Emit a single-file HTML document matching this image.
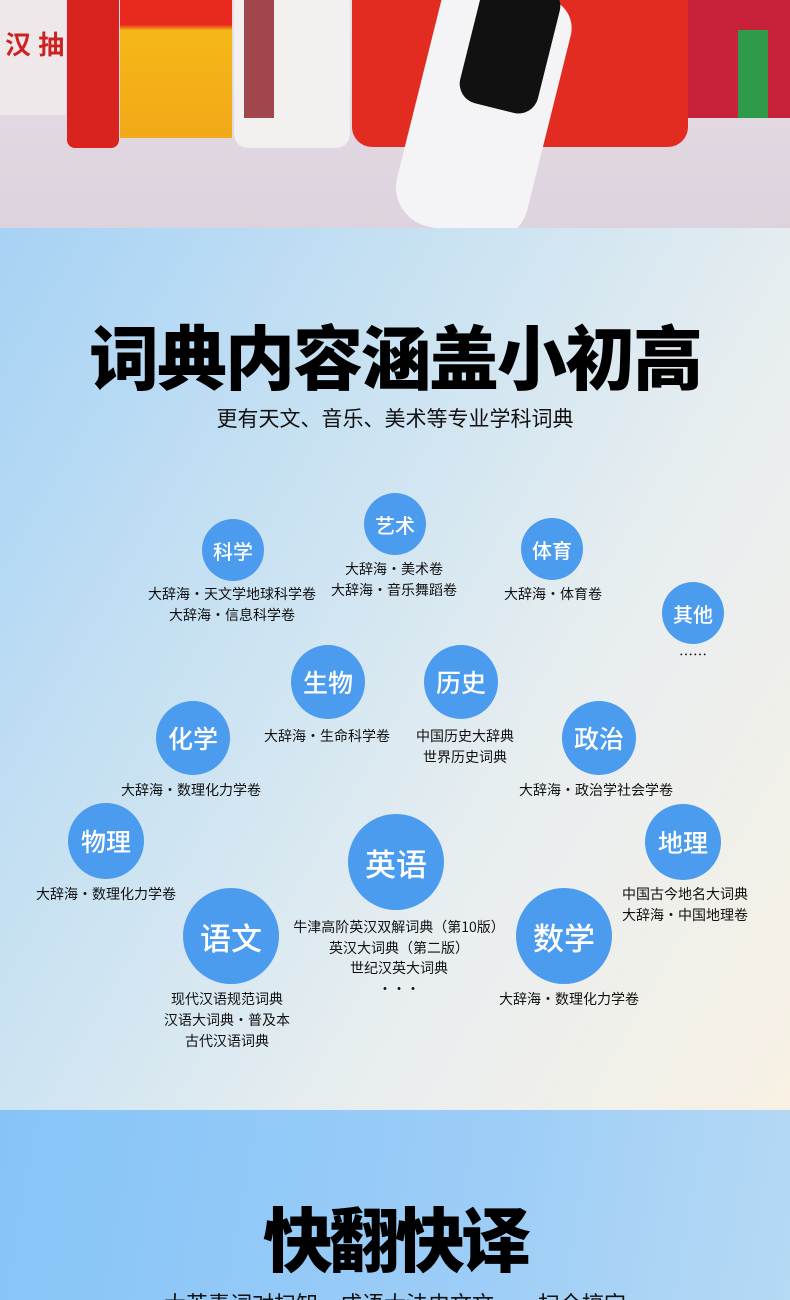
<!DOCTYPE html>
<html><head><meta charset="utf-8"><style>
*{margin:0;padding:0;box-sizing:border-box}
html,body{width:790px;height:1300px;overflow:hidden}
body{position:relative;font-family:"Liberation Sans","Noto Sans CJK SC",sans-serif;}
.top{position:absolute;left:0;top:0;width:790px;height:228px;background:linear-gradient(#e6dde6,#ddd3de);overflow:hidden}
.mid{position:absolute;left:0;top:228px;width:790px;height:882px;background:linear-gradient(120deg,#a6d2f5 0%,#c9e2f2 35%,#e8eef0 65%,#f8f1e4 100%)}
.bot{position:absolute;left:0;top:1110px;width:790px;height:190px;background:linear-gradient(100deg,#86c4f8,#9ccdf7 60%,#b6d9f4);overflow:hidden}
.c{position:absolute;border-radius:50%;background:#4b9bee;color:#fff;display:flex;align-items:center;justify-content:center;font-family:"Noto Sans CJK SC",sans-serif;font-weight:500}
.t{position:absolute;font-size:14px;line-height:21px;color:#111;text-align:center;white-space:nowrap;transform:translateX(-50%);font-family:"Noto Sans CJK SC",sans-serif}
.h{position:absolute;left:0;width:790px;text-align:center;font-family:"Noto Sans CJK SC",sans-serif;font-weight:900;color:#000}
</style></head><body>
<div class="top">
 <div style="position:absolute;left:0;top:0;width:66px;height:115px;background:#efe8ea"></div>
 <div style="position:absolute;left:5px;top:25px;width:60px;height:35px;color:#c22;font-size:26px;font-weight:bold">汉 抽</div>
 <div style="position:absolute;left:67px;top:0;width:52px;height:148px;background:#d9231f;border-radius:0 0 8px 8px"></div>
 <div style="position:absolute;left:120px;top:0;width:112px;height:138px;background:linear-gradient(#e82a1e 0,#e82a1e 18%,#f4b818 22%,#f2a818 100%)"></div>
 <div style="position:absolute;left:234px;top:0;width:116px;height:148px;background:#f3f1f0;border-radius:0 0 14px 14px"></div>
 <div style="position:absolute;left:244px;top:0;width:30px;height:118px;background:#8c1d22;opacity:.8"></div>
 <div style="position:absolute;left:352px;top:0;width:336px;height:147px;background:#e22c22;border-radius:0 0 20px 20px"></div>
 <div style="position:absolute;left:688px;top:0;width:102px;height:118px;background:#c8213a"></div>
 <div style="position:absolute;left:738px;top:30px;width:30px;height:88px;background:#2e9a4a"></div>
 <div style="position:absolute;left:446px;top:-10px;width:134px;height:250px;background:#f4f4f6;border-radius:30px 30px 40px 40px;transform:rotate(14deg);transform-origin:top center"></div>
 <div style="position:absolute;left:470px;top:-20px;width:80px;height:130px;background:#111;border-radius:20px;transform:rotate(14deg)"></div>
</div>
<div class="mid"></div>
<div class="bot">
 <div class="h" style="top:82px;font-size:70px;line-height:90px;letter-spacing:-4px">快翻快译</div>
 <div class="h" style="top:178px;font-size:22px;line-height:30px;font-weight:400;color:#111">大英素词对扫知，成语大法史文文，一扫全搞定</div>
</div>
<div class="h" style="top:310px;font-size:70px;line-height:90px;letter-spacing:-2px">词典内容涵盖小初高</div>
<div class="h" style="top:403px;font-size:21px;line-height:30px;font-weight:400;color:#111">更有天文、音乐、美术等专业学科词典</div>

<div class="c" style="left:202px;top:519px;width:62px;height:62px;font-size:20px">科学</div>
<div class="t" style="left:232px;top:584px">大辞海・天文学地球科学卷<br>大辞海・信息科学卷</div>
<div class="c" style="left:364px;top:493px;width:62px;height:62px;font-size:20px">艺术</div>
<div class="t" style="left:394px;top:559px">大辞海・美术卷<br>大辞海・音乐舞蹈卷</div>
<div class="c" style="left:521px;top:518px;width:62px;height:62px;font-size:20px">体育</div>
<div class="t" style="left:553px;top:584px">大辞海・体育卷</div>
<div class="c" style="left:662px;top:582px;width:62px;height:62px;font-size:20px">其他</div>
<div class="t" style="left:693px;top:645px">……</div>

<div class="c" style="left:291px;top:645px;width:74px;height:74px;font-size:25px">生物</div>
<div class="t" style="left:327px;top:726px">大辞海・生命科学卷</div>
<div class="c" style="left:424px;top:645px;width:74px;height:74px;font-size:25px">历史</div>
<div class="t" style="left:465px;top:726px">中国历史大辞典<br>世界历史词典</div>
<div class="c" style="left:156px;top:701px;width:74px;height:74px;font-size:25px">化学</div>
<div class="t" style="left:191px;top:780px">大辞海・数理化力学卷</div>
<div class="c" style="left:562px;top:701px;width:74px;height:74px;font-size:25px">政治</div>
<div class="t" style="left:596px;top:780px">大辞海・政治学社会学卷</div>

<div class="c" style="left:68px;top:803px;width:76px;height:76px;font-size:25px">物理</div>
<div class="t" style="left:106px;top:884px">大辞海・数理化力学卷</div>
<div class="c" style="left:645px;top:804px;width:76px;height:76px;font-size:25px">地理</div>
<div class="t" style="left:685px;top:884px">中国古今地名大词典<br>大辞海・中国地理卷</div>

<div class="c" style="left:348px;top:814px;width:96px;height:96px;font-size:31px">英语</div>
<div class="t" style="left:399px;top:917px;line-height:20.5px">牛津高阶英汉双解词典（第10版）<br>英汉大词典（第二版）<br>世纪汉英大词典<br>・・・</div>
<div class="c" style="left:183px;top:888px;width:96px;height:96px;font-size:31px">语文</div>
<div class="t" style="left:227px;top:989px">现代汉语规范词典<br>汉语大词典・普及本<br>古代汉语词典</div>
<div class="c" style="left:516px;top:888px;width:96px;height:96px;font-size:31px">数学</div>
<div class="t" style="left:569px;top:989px">大辞海・数理化力学卷</div>
</body></html>
